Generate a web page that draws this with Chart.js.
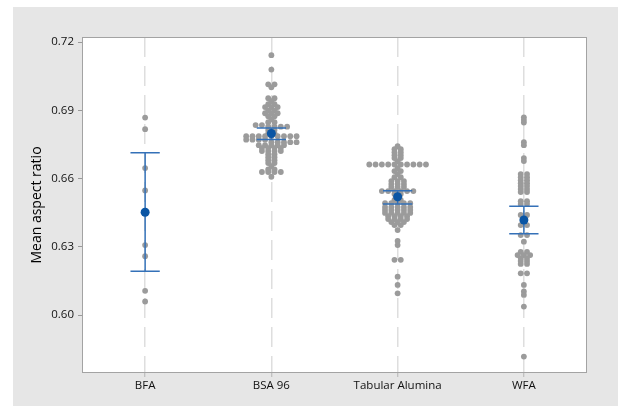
<!DOCTYPE html>
<html>
<head>
<meta charset="utf-8">
<script src="https://cdn.jsdelivr.net/npm/chart.js@4.4.1/dist/chart.umd.min.js"></script>
<style>
  html, body { margin: 0; padding: 0; background: #fff; }
  canvas { display: block; }
</style>
</head>
<body>
<canvas id="chart" width="618" height="406"></canvas>
<script>
// ── data ─────────────────────────────────────────────────────
const categories = ['BFA', 'BSA 96', 'Tabular Alumina', 'WFA'];
const yTicks = [0.60, 0.63, 0.66, 0.69, 0.72];

const bfa = [0.6868, 0.6817, 0.6646, 0.6548, 0.6308, 0.6259, 0.6107, 0.6060];

const bsa96 = [
  0.7142, 0.7079, 0.7014, 0.7014, 0.7001, 0.6953, 0.6953, 0.6940,
  0.6927, 0.6927, 0.6914, 0.6914, 0.6914, 0.6900, 0.6900, 0.6887, 0.6887, 0.6887,
  0.6874, 0.6874, 0.6861, 0.6848, 0.6848, 0.6835, 0.6835,
  0.6828, 0.6828, 0.6828, 0.6828, 0.6813, 0.6813, 0.6799, 0.6799,
  0.6786, 0.6786, 0.6786, 0.6786, 0.6786, 0.6786, 0.6786, 0.6786, 0.6786,
  0.6771, 0.6771, 0.6771, 0.6771, 0.6760, 0.6760, 0.6760, 0.6760, 0.6760,
  0.6747, 0.6747, 0.6747, 0.6747, 0.6747, 0.6734, 0.6734, 0.6734, 0.6734,
  0.6721, 0.6721, 0.6721, 0.6721, 0.6707, 0.6707, 0.6694, 0.6694,
  0.6681, 0.6681, 0.6668, 0.6668, 0.6655, 0.6640, 0.6640,
  0.6629, 0.6629, 0.6629, 0.6629, 0.6608
];

const tabular = [
  0.6742, 0.6729, 0.6729, 0.6716, 0.6716, 0.6703, 0.6703, 0.6690, 0.6690, 0.6676,
  0.6662, 0.6662, 0.6662, 0.6662, 0.6662, 0.6662, 0.6662, 0.6662, 0.6662, 0.6662,
  0.6646, 0.6633, 0.6633, 0.6620, 0.6606, 0.6606,
  0.6589, 0.6589, 0.6589, 0.6576, 0.6576, 0.6576, 0.6563, 0.6563, 0.6563,
  0.6545, 0.6545, 0.6545, 0.6545, 0.6545, 0.6545,
  0.6532, 0.6532, 0.6519, 0.6506, 0.6506,
  0.6492, 0.6492, 0.6492, 0.6492, 0.6492,
  0.6475, 0.6475, 0.6475, 0.6475, 0.6475, 0.6462, 0.6462, 0.6462, 0.6462, 0.6462,
  0.6449, 0.6449, 0.6449, 0.6449, 0.6449, 0.6435, 0.6435, 0.6435, 0.6435,
  0.6422, 0.6422, 0.6422, 0.6422, 0.6409, 0.6409, 0.6409, 0.6396, 0.6396,
  0.6374, 0.6326, 0.6308, 0.6243, 0.6243, 0.6169, 0.6133, 0.6096
];

const wfa = [
  0.6869, 0.6857, 0.6846, 0.6760, 0.6747, 0.6690, 0.6677,
  0.6620, 0.6620, 0.6606, 0.6606, 0.6593, 0.6593, 0.6580, 0.6580,
  0.6567, 0.6567, 0.6554, 0.6554, 0.6541, 0.6541,
  0.6501, 0.6501, 0.6488, 0.6488, 0.6440, 0.6440, 0.6418, 0.6396, 0.6396,
  0.6352, 0.6352, 0.6323,
  0.6278, 0.6278, 0.6264, 0.6264, 0.6264, 0.6251, 0.6251, 0.6238, 0.6238, 0.6225, 0.6225,
  0.6184, 0.6184, 0.6133, 0.6104, 0.6089, 0.6038, 0.5818
];

const groups = [bfa, bsa96, tabular, wfa];

// mean and 95% CI for the mean, as drawn
const means  = [0.6452, 0.6798, 0.6520, 0.6418];
const ciLow  = [0.6193, 0.6772, 0.6488, 0.6358];
const ciHigh = [0.6713, 0.6822, 0.6547, 0.6479];

// ── styles ──────────────────────────────────────────────────
const FONT = "'Open Sans', 'Liberation Sans', sans-serif";
const DOT = '#9b9b9b';
const BLUE_LINE = '#3471b8';
const BLUE_MEAN = '#0a55a4';
const CAP = 0.116;     // half width of CI caps, in category units
const BIN_PX = 3;      // values this close (px) go side by side
const STEP_PX = 6.3;   // horizontal spacing of side-by-side dots

Chart.defaults.font.family = FONT;

// dots stacked side by side when they share a pixel bin
function swarm(values, idx, chart) {
  const ys = chart.scales.y, xs = chart.scales.x;
  const unit = xs.getPixelForValue(1) - xs.getPixelForValue(0);
  const bins = new Map();
  values.forEach(v => {
    const b = Math.round(ys.getPixelForValue(v) / BIN_PX);
    if (!bins.has(b)) bins.set(b, []);
    bins.get(b).push(v);
  });
  const pts = [];
  bins.forEach(arr => arr.forEach((v, j) => {
    pts.push({ x: idx + (j - (arr.length - 1) / 2) * STEP_PX / unit, y: v });
  }));
  return pts;
}

// CI whisker: vertical bar plus two caps, broken by gaps
const ciData = [];
const gap = { x: null, y: null };
categories.forEach((c, i) => {
  ciData.push({ x: i, y: ciLow[i] }, { x: i, y: ciHigh[i] }, gap,
              { x: i - CAP, y: ciHigh[i] }, { x: i + CAP, y: ciHigh[i] }, gap,
              { x: i - CAP, y: ciLow[i] }, { x: i + CAP, y: ciLow[i] }, gap);
});

const frame = {
  id: 'frame',
  beforeDraw(chart) {
    const { ctx, chartArea: a } = chart;
    ctx.save();
    ctx.fillStyle = '#e6e6e6';
    ctx.fillRect(13, 7, chart.width - 13, chart.height - 7);
    ctx.fillStyle = '#ffffff';
    ctx.fillRect(a.left, a.top, a.right - a.left, a.bottom - a.top);
    ctx.restore();
  },
  afterDraw(chart) {
    const { ctx, chartArea: a } = chart;
    ctx.save();
    ctx.strokeStyle = '#a3a3a3';
    ctx.lineWidth = 1;
    ctx.strokeRect(a.left + 0.5, a.top + 0.5, a.right - a.left - 1, a.bottom - a.top - 1);
    ctx.restore();
  }
};

const chart = new Chart(document.getElementById('chart'), {
  type: 'scatter',
  data: {
    datasets: [
      {
        label: 'mean',
        data: means.map((m, i) => ({ x: i, y: m })),
        pointRadius: 4.5,
        pointBackgroundColor: BLUE_MEAN,
        pointBorderWidth: 0,
        order: 1
      },
      {
        label: 'ci',
        data: ciData,
        showLine: true,
        spanGaps: false,
        borderColor: BLUE_LINE,
        borderWidth: 1.5,
        pointRadius: 0,
        order: 2
      },
      {
        label: 'values',
        data: groups.flatMap((g, i) => g.map(v => ({ x: i, y: v }))),
        pointRadius: 2.9,
        pointBackgroundColor: DOT,
        pointBorderWidth: 0,
        order: 3
      }
    ]
  },
  options: {
    responsive: false,
    animation: false,
    devicePixelRatio: 1,
    layout: { padding: { left: 0, top: 37, right: 31, bottom: 0 } },
    plugins: { legend: { display: false }, tooltip: { enabled: false } },
    scales: {
      x: {
        type: 'linear',
        min: -0.5,
        max: 3.5,
        afterBuildTicks: s => { s.ticks = categories.map((c, i) => ({ value: i })); },
        afterFit: s => { s.height = 33; },
        ticks: {
          color: '#111',
          font: { size: 11.5 },
          padding: 2,
          autoSkip: false,
          maxRotation: 0,
          callback: v => categories[v]
        },
        grid: {
          color: '#dedede',
          lineWidth: 1.5,
          tickLength: 4,
          tickColor: '#b5b5b5',
          tickWidth: 1,
          tickBorderDash: []
        },
        border: { display: false, dash: [20, 9] }
      },
      y: {
        min: 0.5746,
        max: 0.7222,
        afterBuildTicks: s => { s.ticks = yTicks.map(v => ({ value: v })); },
        afterFit: s => { s.width = 82; },
        ticks: {
          color: '#111',
          font: { size: 11.5 },
          padding: 4,
          callback: v => v.toFixed(2)
        },
        grid: {
          drawOnChartArea: false,
          tickLength: 4,
          tickColor: '#999'
        },
        border: { display: false },
        title: {
          display: true,
          text: 'Mean aspect ratio',
          color: '#000',
          font: { size: 14 },
          padding: { top: 29, bottom: 0 }
        }
      }
    }
  },
  plugins: [frame]
});

// lay the dots out once the scales exist
chart.data.datasets[2].data = groups.flatMap((g, i) => swarm(g, i, chart));
chart.update('none');
</script>
</body>
</html>
